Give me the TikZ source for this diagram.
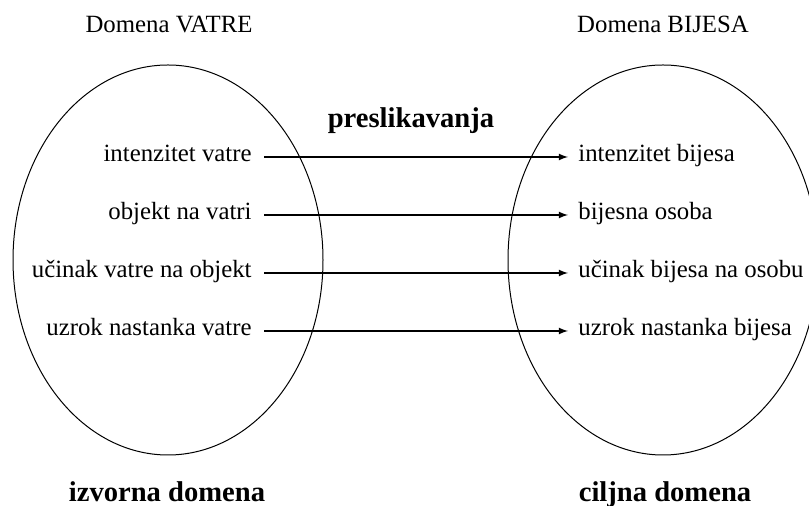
\documentclass[tikz,border=0pt]{standalone}
\usepackage{fontspec}
\setmainfont{Liberation Serif}
\usepackage{xcolor}
\usepackage{tikz}
\usetikzlibrary{arrows}

\begin{document}
\begin{tikzpicture}[x=0.5pt,y=-0.5pt,inner ysep=0.5mm,
    txt/.style={font=\fontsize{12.4}{15}\selectfont},
    src/.style={txt,anchor=mid east,inner xsep=6pt},
    tgt/.style={txt,anchor=mid west,inner xsep=5pt},
    ttl/.style={txt,anchor=base},
    bttl/.style={font=\bfseries\fontsize{14.3}{17}\selectfont,anchor=base},
    map/.style={-latex,line width=0.6pt}]
    \useasboundingbox (0,0) rectangle (809,506);
    \draw[line width=0.5pt] (168,260) ellipse [x radius=155,y radius=195];
    \draw[line width=0.5pt] (663,260) ellipse [x radius=155,y radius=195];
    \node[ttl] (vatre) at (169,33) {Domena VATRE};
    \node[ttl] (bijes) at (663,33) {Domena BIJESA};
    \node[bttl] (presl) at (411,128) {preslikavanja};
    \node[bttl] (izvor) at (167,502) {izvorna domena};
    \node[bttl] (cilj) at (665,502) {ciljna domena};
    \node[src] (v1) at (264,157) {intenzitet vatre};
    \node[src] (v2) at (264,215) {objekt na vatri};
    \node[src] (v3) at (264,273) {učinak vatre na objekt};
    \node[src] (v4) at (264,331) {uzrok nastanka vatre};
    \node[tgt] (b1) at (568,157) {intenzitet bijesa};
    \node[tgt] (b2) at (568,215) {bijesna osoba};
    \node[tgt] (b3) at (568,273) {učinak bijesa na osobu};
    \node[tgt] (b4) at (568,331) {uzrok nastanka bijesa};
    \draw[map] (v1.mid east) -- (b1.mid west);
    \draw[map] (v2.mid east) -- (b2.mid west);
    \draw[map] (v3.mid east) -- (b3.mid west);
    \draw[map] (v4.mid east) -- (b4.mid west);
\end{tikzpicture}
\end{document}
